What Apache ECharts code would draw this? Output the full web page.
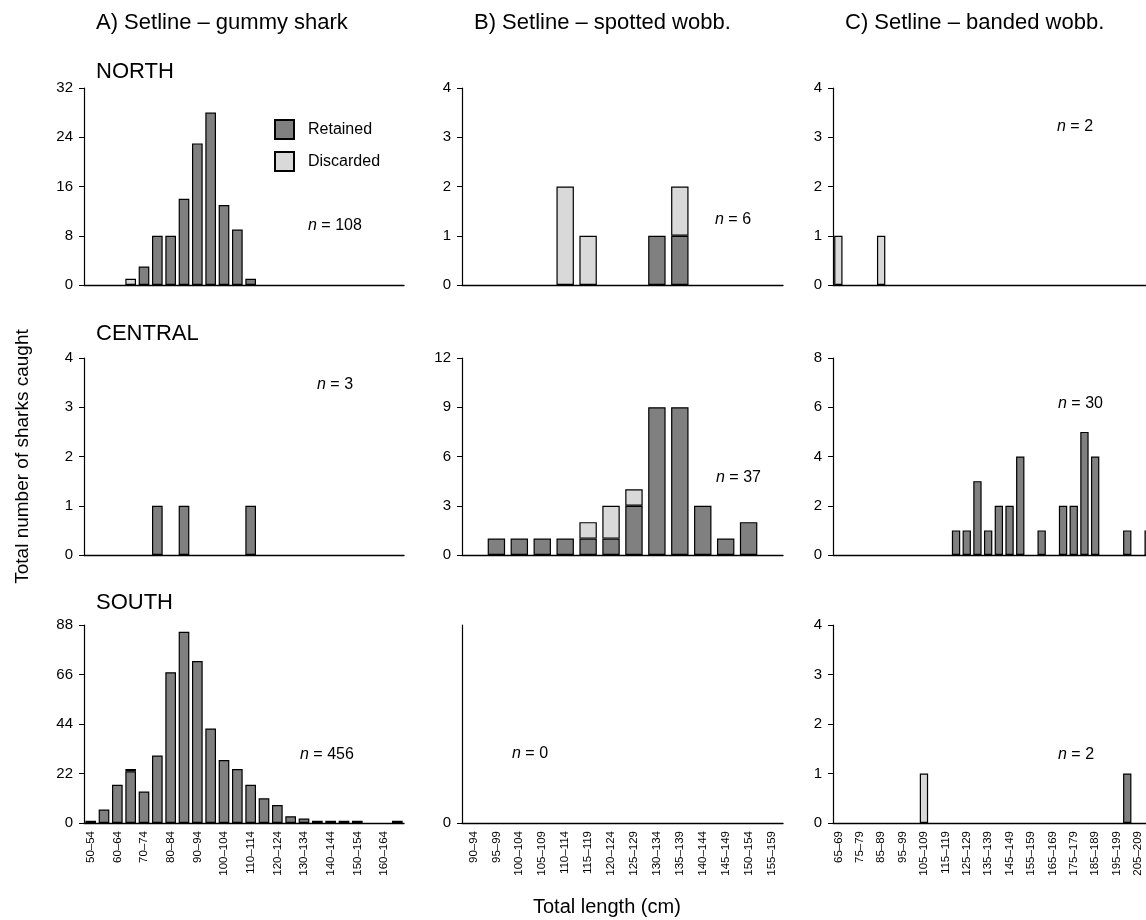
<!DOCTYPE html>
<html><head><meta charset="utf-8">
<script src="https://cdn.jsdelivr.net/npm/echarts@6/dist/echarts.min.js"></script>
<style>html,body{margin:0;padding:0;background:#fff}#c{width:1146px;height:920px}</style>
</head><body><div id="c"></div>
<script>
// ---------- categories (tick labels) ----------
const gummyCats = ['50–54','55–59','60–64','65–69','70–74','75–79','80–84','85–89','90–94','95–99','100–104','105–109','110–114','115–119','120–124','125–129','130–134','135–139','140–144','145–149','150–154','155–159','160–164','165–169'];
const spottedCats = ['90–94','95–99','100–104','105–109','110–114','115–119','120–124','125–129','130–134','135–139','140–144','145–149','150–154','155–159'];
const bandedCats = ['65–69','70–74','75–79','80–84','85–89','90–94','95–99','100–104','105–109','110–114','115–119','120–124','125–129','130–134','135–139','140–144','145–149','150–154','155–159','160–164','165–169','170–174','175–179','180–184','185–189','190–194','195–199','200–204','205–209','210–214'];

// ---------- values ----------
const gummyNorthRetained    = [0,0,0,0,3,8,8,14,23,28,13,9,1,0,0,0,0,0,0,0,0,0,0,0];
const gummyNorthDiscarded   = [0,0,0,1,0,0,0,0,0,0,0,0,0,0,0,0,0,0,0,0,0,0,0,0];
const gummyCentralRetained  = [0,0,0,0,0,1,0,1,0,0,0,0,1,0,0,0,0,0,0,0,0,0,0,0];
const gummyCentralDiscarded = [0,0,0,0,0,0,0,0,0,0,0,0,0,0,0,0,0,0,0,0,0,0,0,0];
const gummySouthRetained    = [1,6,17,23,14,30,67,85,72,42,28,24,17,11,8,3,2,1,1,1,1,0,0,1];
const gummySouthDiscarded   = [0,0,0,1,0,0,0,0,0,0,0,0,0,0,0,0,0,0,0,0,0,0,0,0];

const spottedNorthRetained    = [0,0,0,0,0,0,0,0,1,1,0,0,0,0];
const spottedNorthDiscarded   = [0,0,0,0,2,1,0,0,0,1,0,0,0,0];
const spottedCentralRetained  = [0,1,1,1,1,1,1,3,9,9,3,1,2,0];
const spottedCentralDiscarded = [0,0,0,0,0,1,2,1,0,0,0,0,0,0];
const spottedSouthRetained    = [0,0,0,0,0,0,0,0,0,0,0,0,0,0];
const spottedSouthDiscarded   = [0,0,0,0,0,0,0,0,0,0,0,0,0,0];

const bandedNorthRetained    = [0,0,0,0,0,0,0,0,0,0,0,0,0,0,0,0,0,0,0,0,0,0,0,0,0,0,0,0,0,0];
const bandedNorthDiscarded   = [1,0,0,0,1,0,0,0,0,0,0,0,0,0,0,0,0,0,0,0,0,0,0,0,0,0,0,0,0,0];
const bandedCentralRetained  = [0,0,0,0,0,0,0,0,0,0,0,1,1,3,1,2,2,4,0,1,0,2,2,5,4,0,0,1,0,1];
const bandedCentralDiscarded = [0,0,0,0,0,0,0,0,0,0,0,0,0,0,0,0,0,0,0,0,0,0,0,0,0,0,0,0,0,0];
const bandedSouthRetained    = [0,0,0,0,0,0,0,0,0,0,0,0,0,0,0,0,0,0,0,0,0,0,0,0,0,0,0,1,0,0];
const bandedSouthDiscarded   = [0,0,0,0,0,0,0,0,1,0,0,0,0,0,0,0,0,0,0,0,0,0,0,0,0,0,0,0,0,0];

const sampleSizes = ['108','6','2','3','37','30','456','0','2'];
const yMaxes     = [32,4,4, 4,12,8, 88,4,4];
const yIntervals = [8,1,1, 1,3,2, 22,4,1];
const colTitles = ['A) Setline – gummy shark','B) Setline – spotted wobb.','C) Setline – banded wobb.'];
const rowLabels = ['NORTH','CENTRAL','SOUTH'];
const yTitle = 'Total number of sharks caught';
const xTitle = 'Total length (cm)';

// ---------- layout ----------
const FONT = '"Liberation Sans", Arial, Helvetica, sans-serif';
const colLeft = [84,462,833], colWidth = [320,321,321];
const colGap = ['20%','24%','22%'];
const rowTop = [88,358,625], rowHeight = [197,197,198];
const nPos = [[308,218],[715,212],[1057,119],[317,377],[716,470],[1058,396],[300,747],[512,746],[1058,747]];

const panels = [
  [gummyCats, gummyNorthRetained, gummyNorthDiscarded],
  [spottedCats, spottedNorthRetained, spottedNorthDiscarded],
  [bandedCats, bandedNorthRetained, bandedNorthDiscarded],
  [gummyCats, gummyCentralRetained, gummyCentralDiscarded],
  [spottedCats, spottedCentralRetained, spottedCentralDiscarded],
  [bandedCats, bandedCentralRetained, bandedCentralDiscarded],
  [gummyCats, gummySouthRetained, gummySouthDiscarded],
  [spottedCats, spottedSouthRetained, spottedSouthDiscarded],
  [bandedCats, bandedSouthRetained, bandedSouthDiscarded]
];

const grids=[], xAxes=[], yAxes=[], series=[], titles=[];
const z = v => v === 0 ? '-' : v;
panels.forEach((p, i) => {
  const row = Math.floor(i/3), col = i%3;
  grids.push({left: colLeft[col], top: rowTop[row], width: colWidth[col], height: rowHeight[row], outerBoundsMode: 'none', containLabel: false});
  const bottom = row === 2;
  xAxes.push({
    type: 'category', gridIndex: i, data: p[0], boundaryGap: true,
    axisLine: {show: true, lineStyle: {color: '#000', width: 1.4}},
    axisTick: {show: false},
    axisLabel: {show: bottom, rotate: 90, interval: col === 1 ? 0 : 1, fontSize: 11.5, color: '#000', fontFamily: FONT, margin: 8}
  });
  const y = {
    type: 'value', gridIndex: i, min: 0, max: yMaxes[i], interval: yIntervals[i],
    axisLine: {show: true, lineStyle: {color: '#000', width: 1.2}},
    axisTick: {show: true, inside: false, length: 5, lineStyle: {color: '#000', width: 1}},
    axisLabel: {fontSize: 15, color: '#000', fontFamily: FONT, margin: 11},
    splitLine: {show: false}
  };
  if (i === 7) {
    y.axisLabel.customValues = [0];
    y.axisTick.customValues = [0];
  }
  if (i === 3) {
    y.name = yTitle; y.nameLocation = 'middle'; y.nameRotate = 90; y.nameGap = 52;
    y.nameTextStyle = {fontSize: 19, color: '#000', fontFamily: FONT};
  }
  yAxes.push(y);
  series.push({
    name: 'Retained', type: 'bar', stack: 's'+i, xAxisIndex: i, yAxisIndex: i,
    data: p[1].map(z), barCategoryGap: colGap[col],
    itemStyle: {color: '#808080', borderColor: '#000', borderWidth: 1.2},
    emphasis: {disabled: true}
  });
  series.push({
    name: 'Discarded', type: 'bar', stack: 's'+i, xAxisIndex: i, yAxisIndex: i,
    data: p[2].map(z), barCategoryGap: colGap[col],
    itemStyle: {color: '#d9d9d9', borderColor: '#000', borderWidth: 1.2},
    emphasis: {disabled: true}
  });
  titles.push({
    text: '{i|n} = ' + sampleSizes[i], left: nPos[i][0], top: nPos[i][1], padding: 0,
    textStyle: {fontSize: 16, fontWeight: 'normal', color: '#000', fontFamily: FONT,
      rich: {i: {fontStyle: 'italic', fontSize: 16, color: '#000', fontFamily: FONT}}}
  });
});
colTitles.forEach((t, c) => titles.push({text: t, left: colLeft[c] + 12, top: 12, padding: 0,
  textStyle: {fontSize: 22, fontWeight: 'normal', color: '#000', fontFamily: FONT}}));
const rowTitleTop = [61, 323, 592];
rowLabels.forEach((t, r) => titles.push({text: t, left: 96, top: rowTitleTop[r], padding: 0,
  textStyle: {fontSize: 22, fontWeight: 'normal', color: '#000', fontFamily: FONT}}));
titles.push({text: xTitle, left: 533, top: 897, padding: 0,
  textStyle: {fontSize: 20, fontWeight: 'normal', color: '#000', fontFamily: FONT}});

const chart = echarts.init(document.getElementById('c'), null, {renderer: 'canvas'});
chart.setOption({
  animation: false,
  backgroundColor: '#fff',
  title: titles,
  legend: {
    data: ['Retained', 'Discarded'], orient: 'vertical', left: 274, top: 119, padding: 0,
    itemWidth: 19, itemHeight: 19, itemGap: 11, icon: 'rect', selectedMode: false,
    textStyle: {fontSize: 16, color: '#000', fontFamily: FONT, padding: [0,0,0,9]}
  },
  grid: grids, xAxis: xAxes, yAxis: yAxes, series: series
});
</script></body></html>
